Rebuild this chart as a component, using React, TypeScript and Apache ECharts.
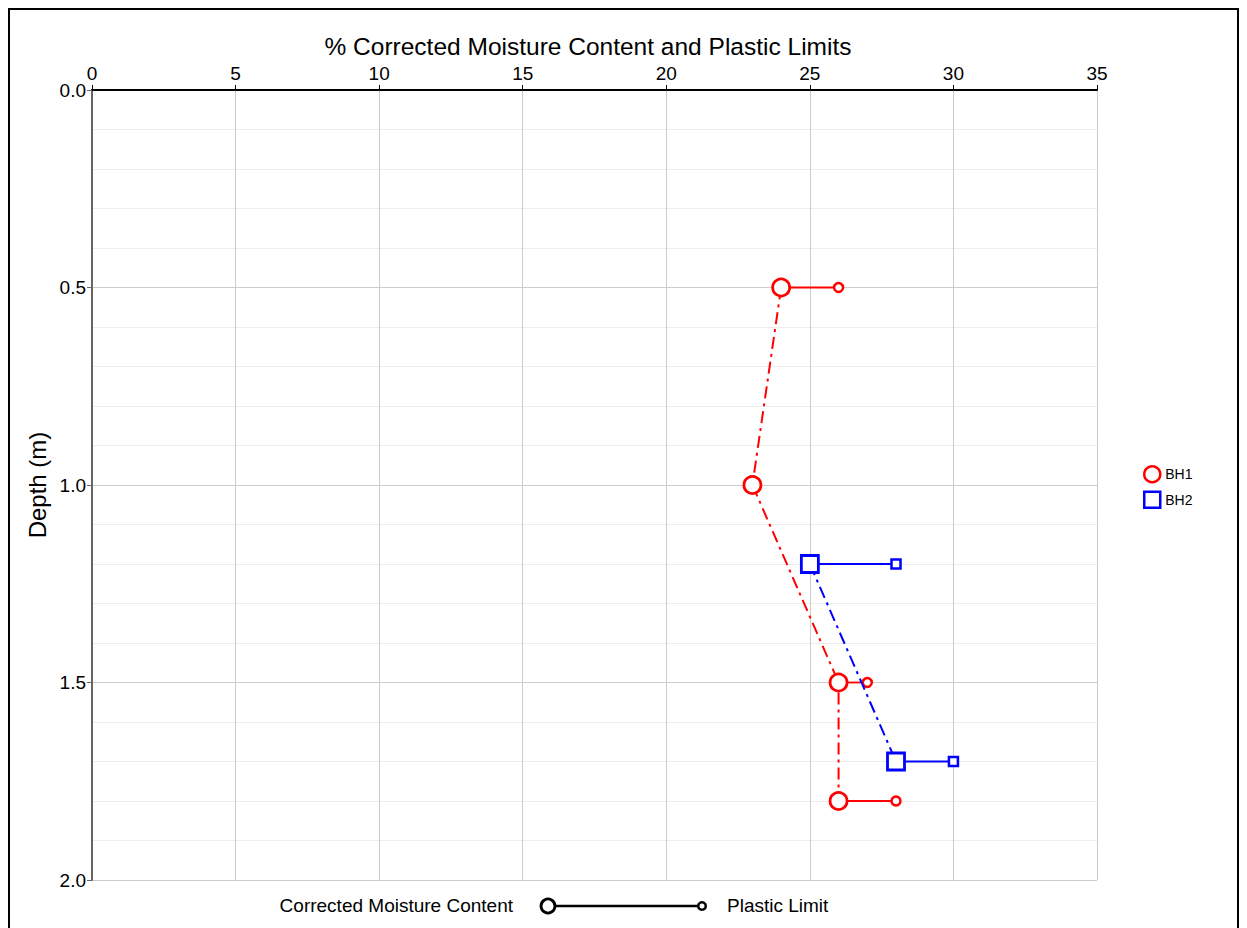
import React, { useEffect, useRef } from "react";
import * as echarts from "echarts";

// ---- data ----
const bh1Depth = [0.5, 1.0, 1.5, 1.8];
const bh1Moisture = [24, 23, 26, 26];
const bh1Plastic: (number | null)[] = [26, null, 27, 28];

const bh2Depth = [1.2, 1.7];
const bh2Moisture = [25, 28];
const bh2Plastic: (number | null)[] = [28, 30];

const xTicks = [0, 5, 10, 15, 20, 25, 30, 35];
const yTicks = [0.0, 0.5, 1.0, 1.5, 2.0];

const FONT = "Liberation Sans, Arial, Helvetica, sans-serif";
const RED = "#ff0000";
const BLUE = "#0000ff";
const DASH = [12, 5, 3, 5];

function boreholeSeries(
  name: string,
  color: string,
  bigSymbol: string,
  bigSize: number,
  smallSize: number,
  depths: number[],
  moist: number[],
  plastic: (number | null)[]
) {
  const out: any[] = [];
  depths.forEach((d, i) => {
    const pl = plastic[i];
    if (pl == null) return;
    out.push({
      name,
      type: "line",
      data: [
        [moist[i], d],
        [pl, d],
      ],
      symbol: "none",
      lineStyle: { color, width: 1.8, type: "solid" },
      itemStyle: { color },
      z: 2,
      silent: true,
    });
    out.push({
      name,
      type: "scatter",
      data: [[pl, d]],
      symbol: bigSymbol,
      symbolSize: smallSize,
      itemStyle: { color: "#fff", borderColor: color, borderWidth: 2.5, opacity: 1 },
      z: 4,
      silent: true,
    });
  });
  out.push({
    name,
    type: "line",
    data: depths.map((d, i) => [moist[i], d]),
    symbol: bigSymbol,
    symbolSize: bigSize,
    showAllSymbol: true,
    lineStyle: { color, width: 2, type: DASH },
    itemStyle: { color: "#fff", borderColor: color, borderWidth: 2.8, opacity: 1 },
    z: 5,
    silent: true,
  });
  return out;
}

export default function App() {
  const ref = useRef<HTMLDivElement>(null);
  useEffect(() => {
    if (!ref.current) return;
    const chart = echarts.init(ref.current, undefined, { renderer: "svg" });
    const series = [
      ...boreholeSeries("BH1", RED, "circle", 17, 9, bh1Depth, bh1Moisture, bh1Plastic),
      ...boreholeSeries("BH2", BLUE, "rect", 17, 9, bh2Depth, bh2Moisture, bh2Plastic),
    ];
    chart.setOption({
      animation: false,
      textStyle: { fontFamily: FONT },
      grid: { left: 82, top: 80, width: 1005, height: 790, containLabel: false },
      legend: {
        orient: "vertical",
        left: 1128,
        top: 450,
        itemWidth: 16,
        itemHeight: 16,
        itemGap: 7,
        selectedMode: false,
        textStyle: { fontSize: 14, color: "#000", fontFamily: FONT },
        data: [
          {
            name: "BH1",
            icon: "circle",
            itemStyle: { color: "#fff", borderColor: RED, borderWidth: 2.5 },
          },
          {
            name: "BH2",
            icon: "rect",
            itemStyle: { color: "#fff", borderColor: BLUE, borderWidth: 2.5 },
          },
        ],
      },
      xAxis: {
        type: "value",
        position: "top",
        min: 0,
        max: 35,
        interval: 5,
        axisLine: { show: true, onZero: false, lineStyle: { color: "#000", width: 2 } },
        axisTick: { show: true, length: 5, lineStyle: { color: "#000" } },
        axisLabel: {
          fontSize: 19,
          color: "#000",
          margin: 7,
          fontFamily: FONT,
          formatter: (v: number) => (xTicks.includes(v) ? String(v) : ""),
        },
        splitLine: { show: true, lineStyle: { color: "#cccccc", width: 1 } },
      },
      yAxis: {
        type: "value",
        inverse: true,
        min: 0,
        max: 2,
        interval: 0.5,
        axisLine: { show: true, onZero: false, lineStyle: { color: "#666", width: 2 } },
        axisTick: { show: true, length: 5, lineStyle: { color: "#666" } },
        minorTick: { show: false, splitNumber: 5 },
        minorSplitLine: { show: true, lineStyle: { color: "#ececec", width: 1 } },
        axisLabel: {
          fontSize: 19,
          color: "#000",
          margin: 6,
          fontFamily: FONT,
          formatter: (v: number) =>
            yTicks.some((t) => Math.abs(t - v) < 1e-9) ? v.toFixed(1) : "",
        },
        splitLine: { show: true, lineStyle: { color: "#cccccc", width: 1 } },
      },
      graphic: [
        {
          type: "text",
          x: 578,
          y: 36,
          style: {
            text: "% Corrected Moisture Content and Plastic Limits",
            font: `24.5px ${FONT}`,
            fill: "#000",
            textAlign: "center",
            textVerticalAlign: "middle",
          },
        },
        {
          type: "text",
          x: 27,
          y: 475,
          rotation: Math.PI / 2,
          style: {
            text: "Depth (m)",
            font: `24px ${FONT}`,
            fill: "#000",
            textAlign: "center",
            textVerticalAlign: "middle",
          },
        },
        {
          type: "text",
          x: 503,
          y: 895,
          style: {
            text: "Corrected Moisture Content",
            font: `19px ${FONT}`,
            fill: "#000",
            textAlign: "right",
            textVerticalAlign: "middle",
          },
        },
        {
          type: "line",
          shape: { x1: 545, y1: 896, x2: 690, y2: 896 },
          style: { stroke: "#000", lineWidth: 2.5 },
        },
        {
          type: "circle",
          shape: { cx: 538, cy: 896, r: 7 },
          style: { fill: "#fff", stroke: "#000", lineWidth: 2.8 },
          z: 10,
        },
        {
          type: "circle",
          shape: { cx: 692, cy: 896, r: 3.8 },
          style: { fill: "#fff", stroke: "#000", lineWidth: 2.5 },
          z: 10,
        },
        {
          type: "text",
          x: 717,
          y: 895,
          style: {
            text: "Plastic Limit",
            font: `19px ${FONT}`,
            fill: "#000",
            textAlign: "left",
            textVerticalAlign: "middle",
          },
        },
      ],
      series,
    });
    return () => chart.dispose();
  }, []);
  return (
    <div
      style={{
        width: 1231,
        height: 934,
        border: "2px solid #000",
        boxSizing: "border-box",
        background: "#fff",
      }}
    >
      <div ref={ref} style={{ width: 1227, height: 930 }} />
    </div>
  );
}
